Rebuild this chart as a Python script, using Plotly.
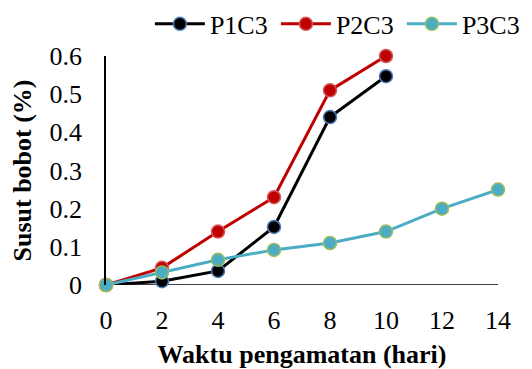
import plotly.graph_objects as go

days_p1 = [0, 2, 4, 6, 8, 10]
p1c3 = [0, 0.01, 0.037, 0.152, 0.44, 0.547]
days_p2 = [0, 2, 4, 6, 8, 10]
p2c3 = [0, 0.045, 0.14, 0.23, 0.51, 0.60]
days_p3 = [0, 2, 4, 6, 8, 10, 12, 14]
p3c3 = [0, 0.033, 0.066, 0.092, 0.11, 0.14, 0.2, 0.25]

x_ticks = [0, 2, 4, 6, 8, 10, 12, 14]
y_ticks = [0, 0.1, 0.2, 0.3, 0.4, 0.5, 0.6]
y_labels = ["0", "0.1", "0.2", "0.3", "0.4", "0.5", "0.6"]

fig = go.Figure()
fig.add_trace(go.Scatter(x=days_p1, y=p1c3, name="P1C3", mode="lines+markers",
                         line=dict(color="black", width=3),
                         marker=dict(size=13, color="black", line=dict(color="#4a7ebb", width=1.5)),
                         cliponaxis=False))
fig.add_trace(go.Scatter(x=days_p2, y=p2c3, name="P2C3", mode="lines+markers",
                         line=dict(color="#c00000", width=3),
                         marker=dict(size=13, color="#c00000", line=dict(color="#d35a5a", width=1.5)),
                         cliponaxis=False))
fig.add_trace(go.Scatter(x=days_p3, y=p3c3, name="P3C3", mode="lines+markers",
                         line=dict(color="#4bacc6", width=3),
                         marker=dict(size=13, color="#4bacc6", line=dict(color="#9bbb59", width=1.5)),
                         cliponaxis=False))

fam = "Liberation Serif, Times New Roman, serif"
tf = dict(family=fam, size=26, color="black")
fig.update_layout(
    width=524, height=361,
    margin=dict(l=98, r=34, t=48, b=84, autoexpand=False),
    paper_bgcolor="white", plot_bgcolor="white",
    font=tf,
    legend=dict(orientation="h", x=0.112, xanchor="left", y=1.14, yanchor="middle",
                font=tf, traceorder="normal", bgcolor="rgba(0,0,0,0)",
                itemwidth=50, entrywidth=61),
    xaxis=dict(range=[0, 14], tickvals=x_ticks, showgrid=False, zeroline=False,
               showline=False, ticks="", ticklabelstandoff=17, tickfont=tf, automargin=False,
               title=dict(text="<b>Waktu pengamatan (hari)</b>", font=tf, standoff=11)),
    yaxis=dict(range=[0, 0.6], tickvals=y_ticks, ticktext=y_labels, showgrid=False, zeroline=False,
               showline=True, linecolor="black", linewidth=1.5, ticks="", ticklabelstandoff=17,
               tickfont=tf, automargin=False,
               title=dict(text="<b>Susut bobot (%)</b>", font=tf, standoff=14)),
)
fig.add_shape(type="line", xref="x", yref="y", x0=0, x1=14, y0=0, y1=0,
              line=dict(color="black", width=1.5), layer="below")

fig.write_html("out.html")
